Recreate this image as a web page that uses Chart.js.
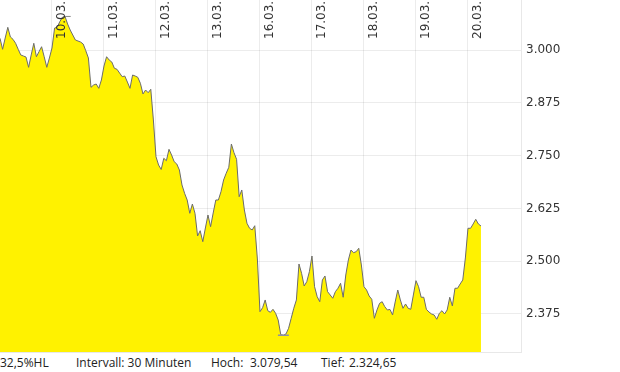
<!DOCTYPE html>
<html>
<head>
<meta charset="utf-8">
<script src="https://cdn.jsdelivr.net/npm/chart.js@4/dist/chart.umd.min.js"></script>
<style>
  html,body{margin:0;padding:0;background:#fff;}
  #wrap{position:relative;width:620px;height:372px;overflow:hidden;}
  #c{position:absolute;left:0;top:0;}
  #info{position:absolute;left:0;top:354px;height:18px;width:620px;font-family:"Open Sans",sans-serif;font-size:12px;color:#222;white-space:nowrap;}
  #info span{position:absolute;top:0;}
</style>
</head>
<body>
<div id="wrap">
  <canvas id="c" width="620" height="353"></canvas>
  <div id="info">
    <span style="left:0px">32,5%HL</span>
    <span style="left:76px">Intervall: 30 Minuten</span>
    <span style="left:211px">Hoch:</span><span style="left:250px">3.079,54</span>
    <span style="left:321px">Tief:</span><span style="left:349px">2.324,65</span>
  </div>
</div>
<script>
// 30-minute closes, 20 bars per trading day, starting 09.03.
const prices = [
  3027.7,3001.7,3028.4,3053.7,3030.8,3025.3,3015.9,3001.7,2988.2,2985.8,
  2983.4,2959.0,2988.2,3015.9,2984.1,2996.0,3007.8,2984.1,2959.0,2981.1,
  3004.7,3052.1,3053.7,3067.0,3077.4,3079.5,3061.6,3047.3,3035.5,3023.7,
  3021.3,3018.9,3014.2,2998.3,2981.1,2911.7,2917.1,2919.5,2909.3,2929.0,
  2962.1,2984.1,2976.3,2971.6,2956.7,2954.3,2945.5,2936.8,2938.4,2924.2,
  2909.3,2940.8,2938.4,2935.4,2921.2,2895.8,2905.3,2898.9,2907.0,2834.3,
  2747.4,2727.7,2717.1,2743.6,2737.9,2764.9,2751.4,2735.6,2730.1,2715.9,
  2680.4,2660.8,2644.9,2613.4,2635.4,2613.4,2559.7,2572.2,2546.2,2578.6,
  2609.4,2581.7,2614.1,2644.9,2644.9,2664.5,2692.2,2708.1,2722.3,2777.5,
  2756.9,2741.2,2652.7,2668.6,2621.2,2589.7,2577.9,2573.9,2584.0,2505.2,
  2380.5,2389.9,2408.2,2382.8,2379.0,2386.1,2376.7,2360.8,2326.0,2324.65,
  2327.7,2341.1,2364.8,2388.5,2408.2,2493.4,2471.4,2441.3,2451.5,2475.2,
  2512.3,2439.6,2416.0,2404.1,2455.5,2465.0,2427.8,2420.0,2412.2,2427.8,
  2435.9,2447.7,2414.6,2467.3,2502.9,2526.5,2520.1,2522.5,2530.6,2491.0,
  2439.6,2431.8,2417.6,2409.8,2364.8,2384.5,2400.3,2404.1,2392.3,2384.5,
  2385.7,2372.7,2403.4,2431.8,2408.2,2388.5,2398.7,2388.5,2386.1,2420.0,
  2453.9,2439.6,2414.6,2414.6,2386.1,2379.7,2375.0,2372.7,2362.5,2376.7,
  2382.8,2375.0,2384.5,2414.6,2394.0,2435.9,2435.9,2446.0,2455.5,2507.6,
  2577.9,2577.9,2588.1,2599.2,2588.1,2583.4
];
const barsPerDay = 20;
const dayLabels = ["10.03.","11.03.","12.03.","13.03.","16.03.","17.03.","18.03.","19.03.","20.03."];
const yTicks = [2375, 2500, 2625, 2750, 2875, 3000];
const yMin = 2285.0, yMax = 3118.4;

const mainData = prices.map((v,i)=>({x:i,y:v}));
const hi = Math.max(...prices), lo = Math.min(...prices);
const hiIdx = prices.indexOf(hi), loIdx = prices.indexOf(lo);
const hiMark = [{x:hiIdx-0.7,y:hi},{x:hiIdx+2.2,y:hi}];
const loMark = [{x:loIdx-2.1,y:lo},{x:loIdx+2.1,y:lo}];

const fmt = v => String(Math.round(v)).replace(/\B(?=(\d{3})+(?!\d))/g,'.');

const dayLabelPlugin = {
  id:'dayLabels',
  afterDraw(chart){
    const ctx = chart.ctx, xs = chart.scales.x;
    ctx.save();
    ctx.font = '12px "DejaVu Sans", sans-serif';
    ctx.fillStyle = '#333';
    ctx.textAlign = 'left';
    ctx.textBaseline = 'middle';
    dayLabels.forEach((lab,k)=>{
      const px = xs.getPixelForValue((k+1)*barsPerDay);
      ctx.save();
      ctx.translate(px+10, 39);
      ctx.rotate(-Math.PI/2);
      ctx.fillText(lab, 0, 0);
      ctx.restore();
    });
    ctx.restore();
  }
};

new Chart(document.getElementById('c'), {
  type:'line',
  data:{
    datasets:[
      {data:mainData, borderColor:'#6b6b6b', borderWidth:1, backgroundColor:'#fff200', fill:'start', pointRadius:0, tension:0, order:2},
      {data:hiMark, borderColor:'#888', borderWidth:1, pointRadius:0, fill:false, order:1},
      {data:loMark, borderColor:'#8c8fa8', borderWidth:1.5, pointRadius:0, fill:false, order:1}
    ]
  },
  options:{
    responsive:false,
    animation:false,
    events:[],
    layout:{padding:0},
    plugins:{legend:{display:false}, tooltip:{enabled:false}},
    scales:{
      x:{
        type:'linear',
        min:0,
        max:200.4,
        z:1,
        afterBuildTicks: s => { s.ticks = dayLabels.map((_,k)=>({value:(k+1)*barsPerDay})); },
        afterFit: s => { s.height = 1; s.paddingLeft = 0; s.paddingRight = 0; },
        ticks:{display:false},
        grid:{color:'rgba(0,0,0,0.075)', drawTicks:false, lineWidth:1},
        border:{display:true, color:'#e8e8e8'}
      },
      y:{
        position:'right',
        min:yMin,
        max:yMax,
        z:1,
        afterBuildTicks: s => { s.ticks = yTicks.map(v=>({value:v})); },
        afterFit: s => { s.width = 99; s.paddingTop = 0; s.paddingBottom = 0; },
        ticks:{
          padding:5,
          color:'#333',
          font:{family:'"DejaVu Sans", sans-serif', size:12},
          callback: v => fmt(v)
        },
        grid:{color:'rgba(0,0,0,0.075)', drawTicks:false, lineWidth:1},
        border:{display:true, color:'#e8e8e8'}
      }
    }
  },
  plugins:[dayLabelPlugin]
});
</script>
</body>
</html>
